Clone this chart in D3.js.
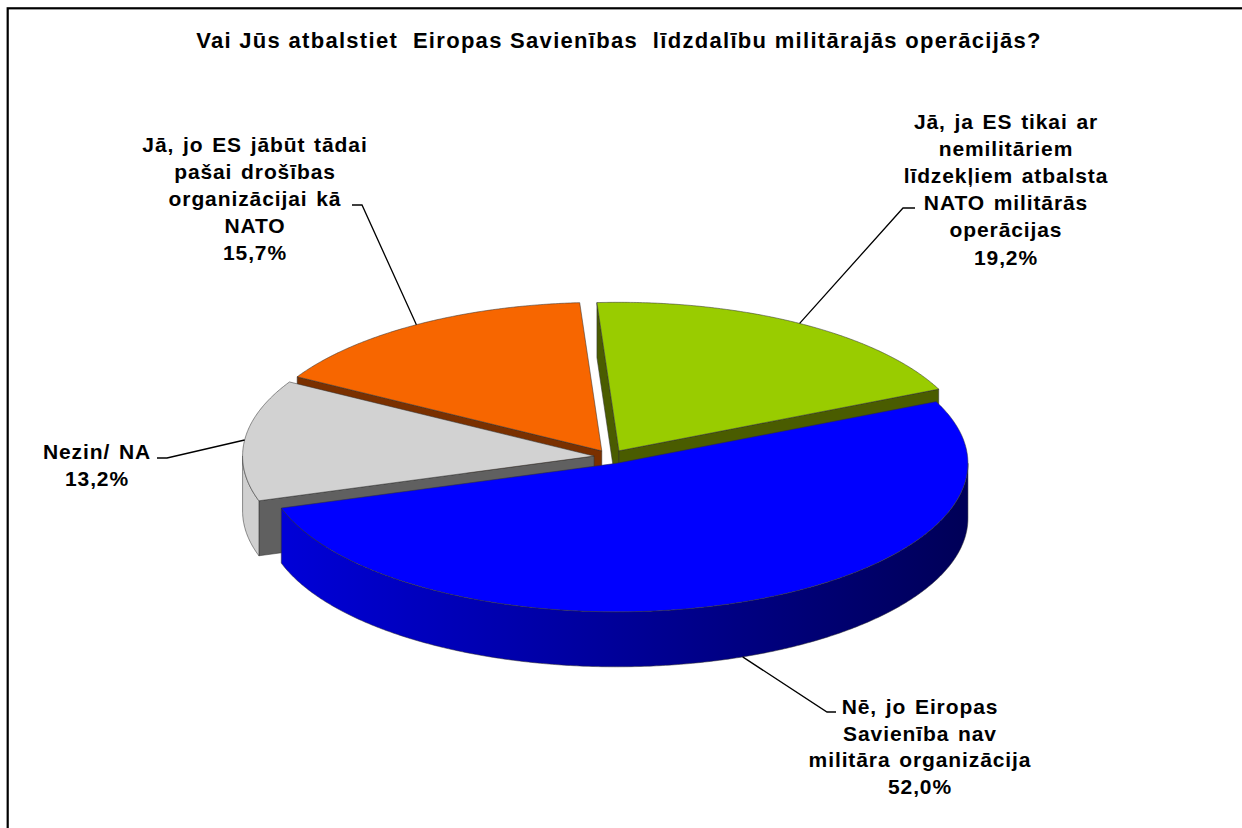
<!DOCTYPE html>
<html><head><meta charset="utf-8">
<script src="https://cdn.jsdelivr.net/npm/d3@7"></script>
<style>
body{margin:0;background:#fff;}
svg{display:block;font-family:Arial,"Liberation Sans",sans-serif;}
</style></head><body>
<svg id="c" width="1242" height="828"></svg>
<script>
// ---- data ----
const title = "Vai Jūs atbalstiet  Eiropas Savienības  līdzdalību militārajās operācijās?";
const categories = [
  "Jā, ja ES tikai ar nemilitāriem līdzekļiem atbalsta NATO militārās operācijas",
  "Nē, jo Eiropas Savienība nav militāra organizācija",
  "Nezin/ NA",
  "Jā, jo ES jābūt tādai pašai drošības organizācijai kā NATO"
];
const labelLines = [
  ["Jā, ja ES tikai ar", "nemilitāriem", "līdzekļiem atbalsta", "NATO militārās", "operācijas"],
  ["Nē, jo Eiropas", "Savienība nav", "militāra organizācija"],
  ["Nezin/ NA"],
  ["Jā, jo ES jābūt tādai", "pašai drošības", "organizācijai kā", "NATO"]
];
const values = [19.2, 52.0, 13.2, 15.7];
const valueLabels = ["19,2%", "52,0%", "13,2%", "15,7%"];

// ---- styles / layout ----
const topColors  = ["#99CC00", "#0000FF", "#D2D2D2", "#F76600"];
const radColors  = ["#4A5C00", "#00007A", "#606060", "#7A3000"];
const wallGrad   = [["#7A9E00","#3F5200"], ["#0000DC","#000058"], ["#D0D0D0","#A8A8A8"], ["#C85000","#6A2600"]];
// label anchor (center x, first baseline) and leader elbow/end
const labelLayout = [
  {x: 1006, y: 129, lh: 27.1, elbow: [903, 208], end: [915, 208]},
  {x: 920,  y: 714, lh: 26.7, elbow: [827, 712], end: [836, 712]},
  {x: 97,   y: 459, lh: 26.5, elbow: [167, 458], end: [157, 458]},
  {x: 255,  y: 152, lh: 27.0, elbow: [362, 205], end: [352, 205]}
];

const W = 1242, H = 828;
const cx = 610.5, cy = 456.8, rx = 351.5, ry = 148.5, depth = 55, explode = 0.047;
const rot = -3.6 * Math.PI / 180;

const svg = d3.select("#c");
const defs = svg.append("defs");
wallGrad.forEach((g, i) => {
  const lg = defs.append("linearGradient").attr("id", "wg" + i)
    .attr("gradientUnits", "userSpaceOnUse")
    .attr("x1", cx - rx).attr("x2", cx + rx).attr("y1", 0).attr("y2", 0);
  lg.append("stop").attr("offset", 0).attr("stop-color", g[0]);
  lg.append("stop").attr("offset", 1).attr("stop-color", g[1]);
});

// border
svg.append("rect").attr("x", 7.7).attr("y", 8.3).attr("width", W + 50).attr("height", H + 50)
  .attr("fill", "none").attr("stroke", "#000").attr("stroke-width", 2.2);

// title
svg.append("text").attr("x", 619).attr("y", 48).attr("text-anchor", "middle")
  .style("white-space", "pre").attr("font-size", 22).attr("font-weight", "bold")
  .attr("letter-spacing", 1.3).text(title);

const pie = d3.pie().sort(null).value(d => d).startAngle(rot).endAngle(rot + 2 * Math.PI);
const arcs = pie(values).map((a, i) => {
  const mid = (a.startAngle + a.endAngle) / 2;
  return {i, a: a.startAngle, b: a.endAngle, mid,
    ox: explode * rx * Math.sin(mid), oy: -explode * ry * Math.cos(mid)};
});

function pt(s, t, z) {
  return [cx + s.ox + rx * Math.sin(t), cy + s.oy - ry * Math.cos(t) + z];
}
function arcPts(s, t0, t1, z) {
  const n = Math.max(2, Math.ceil(Math.abs(t1 - t0) / (0.5 * Math.PI / 180)));
  return d3.range(n + 1).map(k => pt(s, t0 + (t1 - t0) * k / n, z));
}
const line = d3.line();
const edge = {stroke: "#303030", w: 0.7, op: 0.75};

function draw(sel, pts, fill) {
  sel.append("path").attr("d", line(pts) + "Z").attr("fill", fill)
    .attr("stroke", edge.stroke).attr("stroke-width", edge.w).attr("stroke-opacity", edge.op)
    .attr("stroke-linejoin", "round");
}

const order = arcs.slice().sort((p, q) => (-Math.cos(p.mid)) - (-Math.cos(q.mid)));
const gPie = svg.append("g");
order.forEach(s => {
  const g = gPie.append("g");
  const apexT = [cx + s.ox, cy + s.oy], apexB = [cx + s.ox, cy + s.oy + depth];
  if (Math.sin(s.a) < 0) draw(g, [apexT, pt(s, s.a, 0), pt(s, s.a, depth), apexB], radColors[s.i]);
  if (Math.sin(s.b) > 0) draw(g, [apexT, pt(s, s.b, 0), pt(s, s.b, depth), apexB], radColors[s.i]);
  [[Math.PI / 2, 3 * Math.PI / 2], [Math.PI / 2 - 2 * Math.PI, -Math.PI / 2]].forEach(([f0, f1]) => {
    const t0 = Math.max(s.a, f0), t1 = Math.min(s.b, f1);
    if (t1 > t0) {
      const pts = arcPts(s, t0, t1, 0).concat(arcPts(s, t1, t0, depth));
      draw(g, pts, "url(#wg" + s.i + ")");
    }
  });
  draw(g, [apexT].concat(arcPts(s, s.a, s.b, 0)), topColors[s.i]);
});

// leader lines & labels
arcs.forEach(s => {
  const L = labelLayout[s.i];
  const front = Math.cos(s.mid) < -0.5;
  const p = pt(s, s.mid, front ? depth : 0);
  svg.append("path").attr("d", line([L.end, L.elbow, p])).attr("fill", "none")
    .attr("stroke", "#000").attr("stroke-width", 1.3);
  const t = svg.append("text").attr("text-anchor", "middle").attr("font-size", 21)
    .attr("font-weight", "bold").attr("letter-spacing", 0.9).attr("word-spacing", 2).attr("fill", "#000");
  labelLines[s.i].concat([valueLabels[s.i]]).forEach((ln, k) => {
    t.append("tspan").attr("x", L.x).attr("y", L.y + k * L.lh).text(ln);
  });
});
</script>
</body></html>
